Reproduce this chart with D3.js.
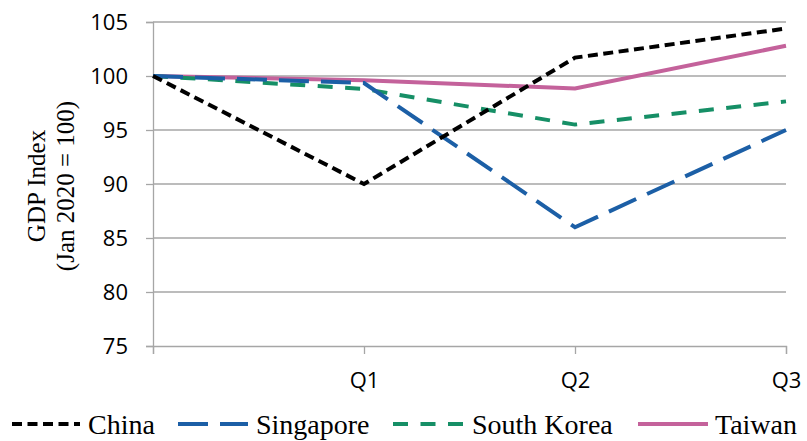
<!DOCTYPE html>
<html>
<head>
<meta charset="utf-8">
<script src="https://cdn.jsdelivr.net/npm/d3@7"></script>
<style>
body{margin:0;background:#fff;}
.tick text{font-family:"Open Sans","Liberation Sans",sans-serif;}
</style>
</head>
<body>
<svg id="chart" width="807" height="441"></svg>
<script>
// data
var periods = ["", "Q1", "Q2", "Q3"];
var china = [100, 90, 101.7, 104.4];
var singapore = [100, 99.35, 86, 95];
var southKorea = [100, 98.8, 95.5, 97.65];
var taiwan = [100, 99.6, 98.85, 102.8];
var yTicks = [75, 80, 85, 90, 95, 100, 105];

var series = [
	{name:"China", values:china, color:"#000000", dash:"10,5.5"},
	{name:"Singapore", values:singapore, color:"#1c5fa6", dash:"30,12"},
	{name:"South Korea", values:southKorea, color:"#168f66", dash:"15,12.5"},
	{name:"Taiwan", values:taiwan, color:"#c4629b", dash:null}
];

var svg = d3.select("#chart"),
	margin = {top:22, right:21, bottom:95, left:153},
	width = +svg.attr("width") - margin.left - margin.right,
	height = +svg.attr("height") - margin.top - margin.bottom;

var x = d3.scalePoint().domain(d3.range(periods.length)).range([0, width]),
	y = d3.scaleLinear().domain([75, 105]).range([height, 0]);

var g = svg.append("g").attr("transform", "translate(" + margin.left + "," + margin.top + ")");

// gridlines
g.append("g").selectAll("line")
	.data(yTicks.filter(function(d){return d > 75;}))
	.enter().append("line")
	.attr("x1", 0).attr("x2", width)
	.attr("y1", function(d){return y(d);}).attr("y2", function(d){return y(d);})
	.attr("stroke", "#a6a6a6").attr("stroke-width", 1.3);

// y axis
var yAxis = g.append("g").call(d3.axisLeft(y).tickValues(yTicks).tickSize(7).tickPadding(18));
yAxis.select(".domain").attr("stroke", "#a6a6a6").attr("stroke-width", 1.3);
yAxis.selectAll(".tick line").attr("stroke", "#a6a6a6").attr("stroke-width", 1.3);
yAxis.selectAll(".tick text").attr("font-size", 22).attr("fill", "#000");

// x axis
var xAxis = g.append("g").attr("transform", "translate(0," + height + ")")
	.call(d3.axisBottom(x).tickFormat(function(i){return periods[i];}).tickSize(8).tickPadding(18));
xAxis.select(".domain").attr("stroke", "#a6a6a6").attr("stroke-width", 1.3);
xAxis.selectAll(".tick line").attr("stroke", "#a6a6a6").attr("stroke-width", 1.3);
xAxis.selectAll(".tick text").attr("font-size", 22).attr("fill", "#000");

// y title
var title = svg.append("text")
	.attr("transform", "translate(45,186) rotate(-90)")
	.attr("text-anchor", "middle")
	.attr("font-family", "Liberation Serif, serif")
	.attr("font-size", 25);
title.append("tspan").attr("x", 0).attr("dy", 0).text("GDP Index");
title.append("tspan").attr("x", 0).attr("dy", 29).text("(Jan 2020 = 100)");

// lines
var line = d3.line()
	.x(function(d, i){return x(i);})
	.y(function(d){return y(d);});

g.selectAll(".series")
	.data(series.slice().reverse())
	.enter().append("path")
	.attr("class", "series")
	.attr("d", function(d){return line(d.values);})
	.attr("fill", "none")
	.attr("stroke", function(d){return d.color;})
	.attr("stroke-width", 4)
	.attr("stroke-dasharray", function(d){return d.dash;});

// legend
var legendLine = [[12, 80], [178, 248], [393, 465], [638, 708]];
var legendText = [88, 256, 472, 715];
var leg = svg.append("g");
var item = leg.selectAll("g").data(series).enter().append("g");
item.append("line")
	.attr("x1", function(d, i){return legendLine[i][0];})
	.attr("x2", function(d, i){return legendLine[i][1];})
	.attr("y1", 424).attr("y2", 424)
	.attr("stroke", function(d){return d.color;})
	.attr("stroke-width", 4)
	.attr("stroke-dasharray", function(d){return d.dash;});
item.append("text")
	.attr("x", function(d, i){return legendText[i];})
	.attr("y", 434)
	.attr("font-family", "Liberation Serif, serif")
	.attr("font-size", 28)
	.text(function(d){return d.name;});
</script>
</body>
</html>
